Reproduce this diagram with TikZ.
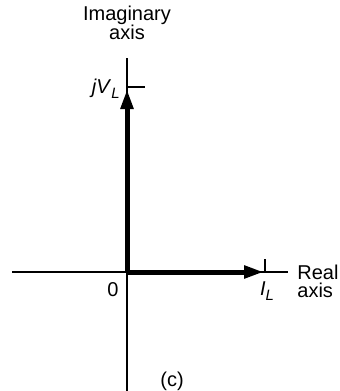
\documentclass[tikz,border=0pt]{standalone}
\usepackage{fontspec}
\setmainfont{Liberation Sans}
\usetikzlibrary{arrows.meta}

\begin{document}
\begin{tikzpicture}[x=0.5pt, y=-0.5pt, >={Triangle[length=10pt,width=6pt]},
                    every node/.style={inner sep=1pt, font=\fontsize{10}{11}\selectfont},
                    axisline/.style={line width=0.75pt},
                    phasor/.style={->, line width=2.5pt, shorten >=-1pt},
                    ticks/.style={line width=0.75pt}]
  \useasboundingbox (0,0) rectangle (340,391);
  % axes
  \coordinate (O)    at (127,272);
  \coordinate (west) at (12,272);
  \coordinate (east) at (288,272);
  \coordinate (north) at (127,58);
  \coordinate (south) at (127,391);
  \draw[axisline] (west) -- (east);
  \draw[axisline] (north) -- (south);
  % phasors
  \coordinate (V) at (127,91);
  \coordinate (I) at (262,272);
  \coordinate (Vtick) at (145,87);
  \coordinate (Itick) at (265,259);
  \draw[phasor] (O) -- (V);
  \draw[phasor] (O) -- (I);
  \draw[ticks] (127,87) -- (Vtick);
  \draw[ticks] (265,272) -- (Itick);
  % labels
  \node (imag)  at (127,15)  {Imaginary};
  \node (imag2) at (127,32)  {axis};
  \node (vl)    [anchor=east] at (122,89) {\textit{jV}\raisebox{-0.5ex}{\fontsize{7.5}{8}\selectfont\textit{L}}};
  \node (zero)  at (113,290) {0};
  \node (il)    at (267,291) {\textit{I}\raisebox{-0.5ex}{\fontsize{7.5}{8}\selectfont\textit{L}}};
  \node (real)  [anchor=west] at (295,272) {Real};
  \node (real2) [anchor=west] at (295,290) {axis};
  \node (cap)   at (172,381) {(c)};
\end{tikzpicture}
\end{document}
